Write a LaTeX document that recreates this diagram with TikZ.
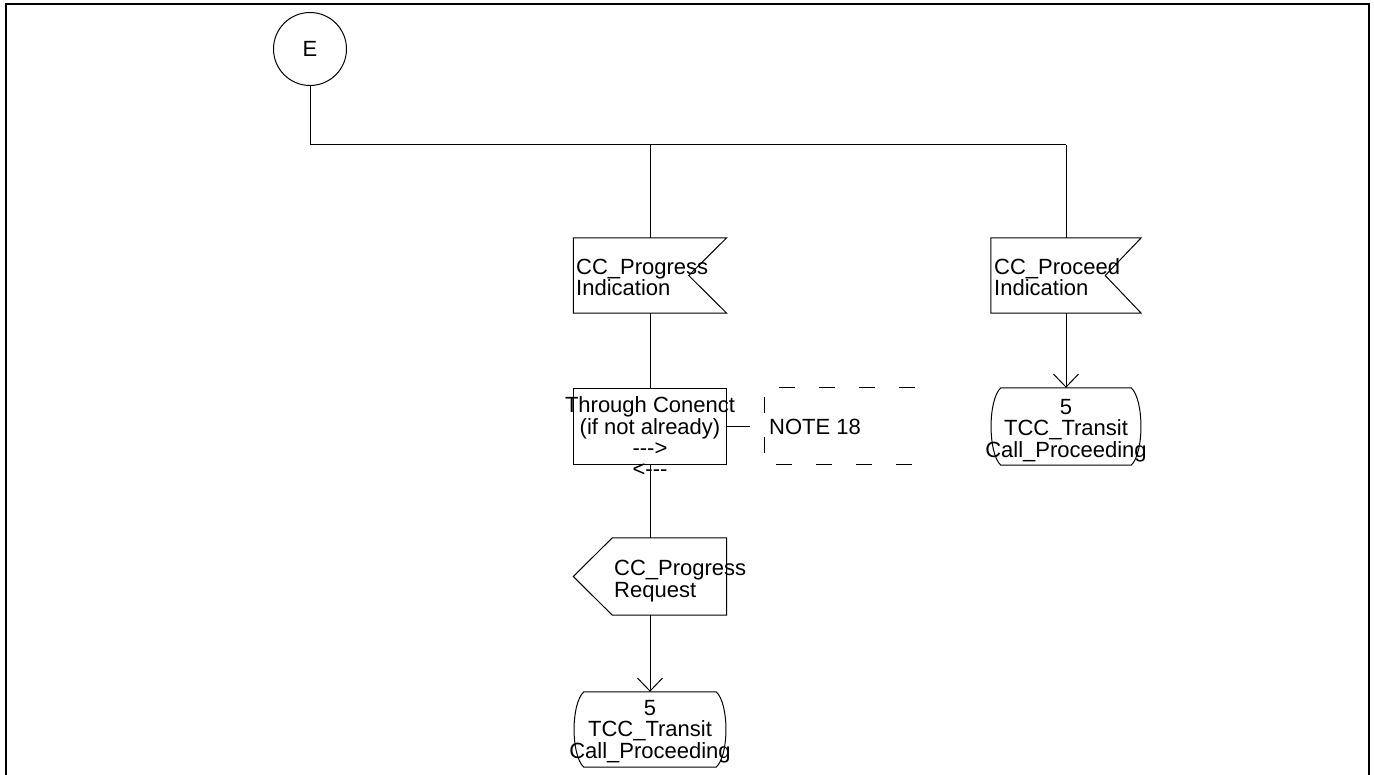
\documentclass[tikz,border=0pt]{standalone}
\usepackage{fontspec}
\setmainfont{Liberation Sans}
\usetikzlibrary{arrows.meta,calc}
\tikzset{
  every node/.style={font=\fontsize{22}{21.5}\selectfont, inner sep=0pt},
  ln/.style={line width=1pt},
  frameline/.style={line width=2pt},
  arr/.style={ln, -{Straight Barb[length=13pt,width=25pt,line width=1pt]}},
  notedash/.style={ln, dash pattern=on 16pt off 24pt},
  lbl/.style={align=left, anchor=base west},
  clbl/.style={align=center, anchor=base},
  box/.style={minimum width=153pt, minimum height=75pt, inner sep=0pt},
}
\newcommand{\hy}{\mbox{-}}
\begin{document}
\begin{tikzpicture}[x=1pt,y=-1pt]
\useasboundingbox (0,0) rectangle (1374,775);
% frame
\coordinate (f1) at (6,775);
\coordinate (f2) at (6,4);
\coordinate (f3) at (1369,4);
\coordinate (f4) at (1369,775);
\draw[frameline] (f1) -- (f2) -- (f3) -- (f4);

% start connector
\node[circle, draw, ln, minimum size=73pt] (E) at (310,49) {E};
\coordinate (jl) at (650,145);
\coordinate (jr) at (1066,145);
\draw[ln] (E.south) |- (jr);

% input CC_Progress Indication
\node[box] (pin) at (650,275.5) {};
\draw[ln] (pin.north west) -- (pin.north east) -- ($(pin.east)+(-38,0)$) -- (pin.south east) -- (pin.south west) -- cycle;
\node[lbl] (tpin) at (576,296) {CC\_Progress\\Indication};

% input CC_Proceed Indication
\node[box, minimum width=150pt] (qin) at (1066,275.5) {};
\draw[ln] (qin.north west) -- (qin.north east) -- ($(qin.east)+(-36,0)$) -- (qin.south east) -- (qin.south west) -- cycle;
\node[lbl] (tqin) at (994,296) {CC\_Proceed\\Indication};

\draw[ln] (jl) -- (pin.north);
\draw[ln] (jr) -- (qin.north);

% task
\node[box, draw, ln, minimum height=76pt] (task) at (650,427) {};
\node[clbl] (ttask) at (650,477) {Through Conenct\\(if not already)\\\hy\hy\hy>\\<\hy\hy\hy};
\draw[ln] (pin.south) -- (task.north);

% comment
\coordinate (nl) at (750,427);
\draw[ln] (task.east) -- (nl);
\coordinate (n1) at (915,388);
\coordinate (n2) at (764,388);
\coordinate (n3) at (764,465);
\coordinate (n4) at (915,465);
\draw[notedash] (n1) -- (n2) -- (n3) -- (n4);
\node[lbl] (tnote) at (769,435) {NOTE 18};

% output CC_Progress Request
\node[box, minimum height=77pt] (out) at (650,576.5) {};
\draw[ln] ($(out.north west)+(39,0)$) -- (out.north east) -- (out.south east) -- ($(out.south west)+(39,0)$) -- (out.west) -- cycle;
\node[lbl] (tout) at (614,597) {CC\_Progress\\Request};
\draw[ln] (task.south) -- (out.north);

% state bottom
\node[box, minimum width=152pt] (s1) at (650,729.5) {};
\draw[ln] ($(s1.north west)+(10,0)$) -- ($(s1.north east)+(-10,0)$)
  .. controls ($(s1.north east)+(3,12)$) and ($(s1.south east)+(3,-12)$) .. ($(s1.south east)+(-10,0)$)
  -- ($(s1.south west)+(10,0)$)
  .. controls ($(s1.south west)+(-3,-12)$) and ($(s1.north west)+(-3,12)$) .. cycle;
\node[clbl] (ts1) at (650,758) {5\\TCC\_Transit\\Call\_Proceeding};
\draw[arr] (out.south) -- (s1.north);

% state right
\node[box, minimum width=150pt, minimum height=77pt] (s2) at (1066,426.5) {};
\draw[ln] ($(s2.north west)+(10,0)$) -- ($(s2.north east)+(-10,0)$)
  .. controls ($(s2.north east)+(3,12)$) and ($(s2.south east)+(3,-12)$) .. ($(s2.south east)+(-10,0)$)
  -- ($(s2.south west)+(10,0)$)
  .. controls ($(s2.south west)+(-3,-12)$) and ($(s2.north west)+(-3,12)$) .. cycle;
\node[clbl] (ts2) at (1066,457) {5\\TCC\_Transit\\Call\_Proceeding};
\draw[arr] (qin.south) -- (s2.north);
\end{tikzpicture}
\end{document}
